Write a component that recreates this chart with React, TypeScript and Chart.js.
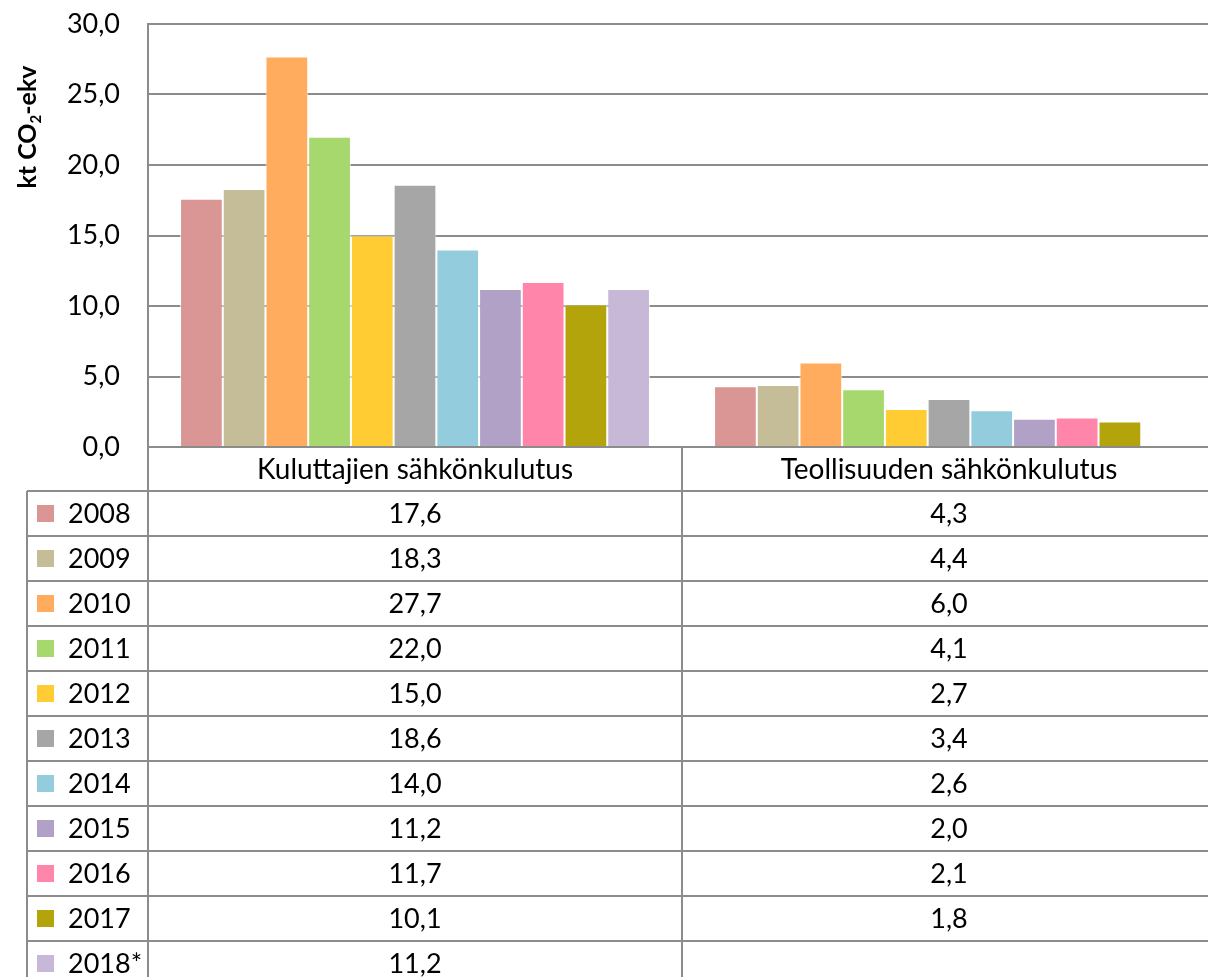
import React, { useEffect, useRef } from "react";
import { Chart, registerables } from "chart.js";

Chart.register(...registerables);

const categories = ["Kuluttajien sähkönkulutus", "Teollisuuden sähkönkulutus"];
const years = ["2008", "2009", "2010", "2011", "2012", "2013", "2014", "2015", "2016", "2017", "2018*"];
const kuluttajat = [17.6, 18.3, 27.7, 22.0, 15.0, 18.6, 14.0, 11.2, 11.7, 10.1, 11.2];
const teollisuus = [4.3, 4.4, 6.0, 4.1, 2.7, 3.4, 2.6, 2.0, 2.1, 1.8, null];
const colors = ["#D99694", "#C4BD97", "#FFAC5F", "#A6D86E", "#FFCC33", "#A6A6A6", "#93CDDD", "#B2A1C7", "#FF85AB", "#B3A40C", "#C8B8D8"];
const yTicks = { min: 0, max: 30, step: 5 };

const FONT = "Lato";
const LINE = "#8c8c8c";

const fmt = (v: number) => v.toFixed(1).replace(".", ",");

const tablePlugin = {
  id: "dataTable",
  afterDraw(chart: any) {
    const ctx = chart.ctx as CanvasRenderingContext2D;
    const area = chart.chartArea;
    const xs = chart.scales.x;
    const nCat = chart.data.labels.length;
    const catW = (area.right - area.left) / nCat;
    const headerTop = area.bottom;
    const headerH = 44;
    const rowH = 45;
    const rowsTop = headerTop + headerH;
    const leftEdge = 27;
    const ds = chart.data.datasets;
    const right = chart.width;

    ctx.save();
    ctx.strokeStyle = LINE;
    ctx.lineWidth = 2;
    for (let i = 0; i <= ds.length; i++) {
      const y = Math.round(rowsTop + i * rowH);
      ctx.beginPath();
      ctx.moveTo(leftEdge, y);
      ctx.lineTo(right, y);
      ctx.stroke();
    }
    const bottomY = rowsTop + ds.length * rowH;
    ctx.beginPath();
    ctx.moveTo(leftEdge, rowsTop);
    ctx.lineTo(leftEdge, bottomY);
    ctx.stroke();
    for (let c = 0; c <= nCat; c++) {
      const x = Math.round(area.left + c * catW);
      ctx.beginPath();
      ctx.moveTo(x, headerTop);
      ctx.lineTo(x, bottomY);
      ctx.stroke();
    }

    ctx.fillStyle = "#000";
    ctx.textBaseline = "middle";
    ctx.textAlign = "center";
    ctx.font = `28px ${FONT}`;
    chart.data.labels.forEach((lab: string, c: number) => {
      const cx = xs.getPixelForValue(c);
      ctx.fillText(lab, cx, headerTop + headerH / 2 + 1);
    });

    ctx.font = `27px ${FONT}`;
    ds.forEach((d: any, i: number) => {
      const top = rowsTop + i * rowH;
      const mid = top + rowH / 2 + 1;
      ctx.fillStyle = d.backgroundColor;
      ctx.fillRect(37, top + 14, 17, 17);
      ctx.fillStyle = "#000";
      ctx.textAlign = "left";
      ctx.fillText(d.label, 68, mid);
      ctx.textAlign = "center";
      d.data.forEach((v: number | null, c: number) => {
        if (v === null || v === undefined) return;
        ctx.fillText(fmt(v), xs.getPixelForValue(c), mid);
      });
    });

    // y axis title with subscript
    ctx.translate(0, 127);
    ctx.rotate(-Math.PI / 2);
    const bigFont = `bold 25px ${FONT}`;
    const smallFont = `bold 15px ${FONT}`;
    ctx.font = bigFont;
    const w1 = ctx.measureText("kt CO").width;
    const w3 = ctx.measureText("-ekv").width;
    ctx.font = smallFont;
    const w2 = ctx.measureText("2").width;
    const W = w1 + w2 + w3;
    let x = -W / 2;
    ctx.textAlign = "left";
    ctx.textBaseline = "alphabetic";
    ctx.font = bigFont;
    ctx.fillText("kt CO", x, 36);
    x += w1;
    ctx.font = smallFont;
    ctx.fillText("2", x, 41);
    x += w2;
    ctx.font = bigFont;
    ctx.fillText("-ekv", x, 36);
    ctx.restore();
  },
};

export default function App() {
  const ref = useRef<HTMLCanvasElement | null>(null);

  useEffect(() => {
    if (!ref.current) return;
    const datasets = years.map((y, i) => ({
      label: y,
      data: [kuluttajat[i], teollisuus[i]],
      backgroundColor: colors[i],
      borderColor: "rgba(255,255,255,0.7)",
      borderWidth: 1,
      categoryPercentage: 0.88,
      barPercentage: 1.0,
    }));
    const chart = new Chart(ref.current, {
      type: "bar",
      data: { labels: categories, datasets },
      options: {
        responsive: false,
        animation: false,
        layout: { padding: { left: 0, top: 24, right: 14, bottom: 553 } },
        plugins: { legend: { display: false }, tooltip: { enabled: false }, title: { display: false } },
        scales: {
          x: { display: false },
          y: {
            min: yTicks.min,
            max: yTicks.max,
            ticks: {
              stepSize: yTicks.step,
              color: "#000",
              font: { family: FONT, size: 27 },
              padding: 28,
              callback: (v: any) => fmt(Number(v)),
            },
            grid: { color: LINE, lineWidth: 2, drawTicks: false },
            border: { color: LINE, width: 2 },
            afterFit: (s: any) => {
              s.width = 148;
              s.paddingTop = 0;
              s.paddingBottom = 0;
            },
          },
        },
      },
      plugins: [tablePlugin],
    });
    return () => chart.destroy();
  }, []);

  return (
    <div style={{ position: "fixed", left: 0, top: 0, width: 1208, height: 977, overflow: "hidden", background: "#fff" }}>
      <canvas ref={ref} width={1230} height={1000} style={{ display: "block" }} />
    </div>
  );
}
